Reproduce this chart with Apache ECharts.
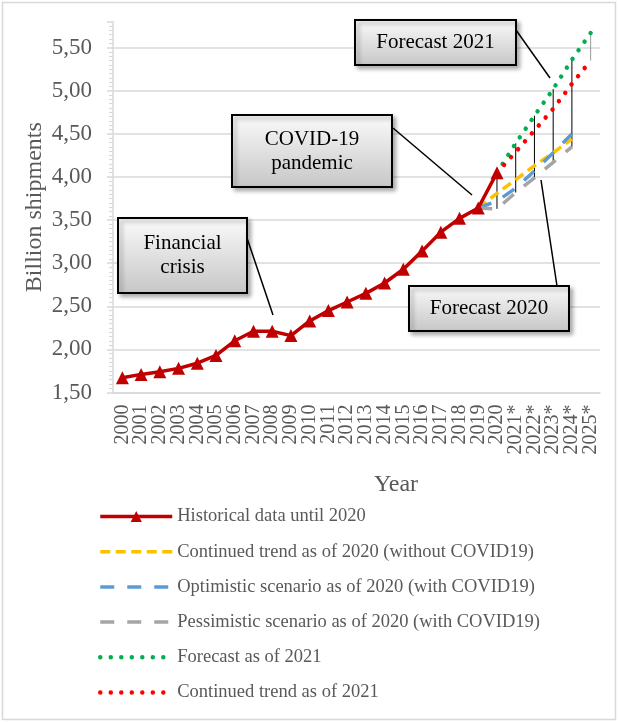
<!DOCTYPE html>
<html>
<head>
<meta charset="utf-8">
<script src="https://cdn.jsdelivr.net/npm/echarts@6/dist/echarts.min.js"></script>
<style>
html, body { margin: 0; padding: 0; background: #fff; }
#chart { width: 619px; height: 722px; }
</style>
</head>
<body>
<div id="chart"></div>
<script>
// categories on the x axis
const years = ['2000', '2001', '2002', '2003', '2004', '2005', '2006', '2007', '2008', '2009',
    '2010', '2011', '2012', '2013', '2014', '2015', '2016', '2017', '2018', '2019',
    '2020', '2021*', '2022*', '2023*', '2024*', '2025*'];

// billion shipments, 2000 - 2020
const historical = [1.67, 1.71, 1.74, 1.78, 1.84, 1.93, 2.10, 2.21, 2.21, 2.16,
    2.33, 2.45, 2.55, 2.65, 2.77, 2.93, 3.14, 3.36, 3.52, 3.64, 4.05];
// scenarios as of 2020, 2019 - 2024*
const trend2020 = [3.64, 3.81, 3.97, 4.13, 4.28, 4.44];
const optimistic2020 = [3.64, 3.72, 3.87, 4.07, 4.28, 4.50];
const pessimistic2020 = [3.64, 3.63, 3.82, 3.99, 4.17, 4.35];
// as of 2021, 2020 - 2025*
const forecast2021 = [4.05, 4.39, 4.71, 5.02, 5.36, 5.67];
const trend2021 = [4.05, 4.29, 4.54, 4.79, 5.08, 5.35];

// y axis ticks
const yMin = 1.5;
const yMax = 5.8;
const yStep = 0.5;

const serif = "'Liberation Serif', 'Times New Roman', serif";
const grey = '#595959';

function pad(start, arr) {
    const s = years.indexOf(start);
    return years.map(function (y, i) {
        const k = i - s;
        return (k >= 0 && k < arr.length) ? arr[k] : null;
    });
}

const sHist = pad('2000', historical);
const sTrend20 = pad('2019', trend2020);
const sOpt20 = pad('2019', optimistic2020);
const sPes20 = pad('2019', pessimistic2020);
const sFc21 = pad('2020', forecast2021);
const sTrend21 = pad('2020', trend2021);

// high-low lines from 2020 on
const hiLo = [];
for (let i = years.indexOf('2020'); i < years.length; i++) {
    const vals = [sHist[i], sTrend20[i], sOpt20[i], sPes20[i], sFc21[i], sTrend21[i]]
        .filter(function (v) { return v != null; });
    if (vals.length > 1) hiLo.push([i, Math.max.apply(null, vals), Math.min.apply(null, vals)]);
}

const gridColors = [];
for (let v = yMin; v <= yMax + 1e-9; v += yStep) gridColors.push('#d9d9d9');
gridColors.push('transparent');

function calloutBox(x, y, w, h) {
    return {
        type: 'rect',
        z: 100,
        shape: { x: x, y: y, width: w, height: h },
        style: {
            fill: {
                type: 'linear', x: 0, y: 0, x2: 0, y2: 1,
                colorStops: [{ offset: 0, color: '#fbfbfb' }, { offset: 1, color: '#c6c6c6' }]
            },
            stroke: '#000',
            lineWidth: 2,
            shadowBlur: 4,
            shadowOffsetX: 3,
            shadowOffsetY: 3,
            shadowColor: 'rgba(0,0,0,0.3)'
        }
    };
}

function calloutText(x, y, w, h, text) {
    return {
        type: 'text',
        z: 101,
        style: {
            x: x + w / 2,
            y: y + h / 2,
            text: text,
            align: 'center',
            verticalAlign: 'middle',
            fill: '#000',
            font: '21px ' + serif,
            lineHeight: 24,
            shadowBlur: 0,
            shadowOffsetX: 0,
            shadowOffsetY: 0,
            shadowColor: 'transparent',
            textShadowBlur: 0
        }
    };
}

function leader(x1, y1, x2, y2) {
    return {
        type: 'line',
        z: 99,
        shape: { x1: x1, y1: y1, x2: x2, y2: y2 },
        style: { stroke: '#000', lineWidth: 1.5 }
    };
}

const boxes = [
    [355, 20, 161, 45, 'Forecast 2021'],
    [232, 115, 160, 72, 'COVID-19\npandemic'],
    [118, 218, 129, 75, 'Financial\ncrisis'],
    [409, 286, 160, 45, 'Forecast 2020']
];

const graphics = [{
    type: 'rect',
    shape: { x: 2.5, y: 2.5, width: 613, height: 717 },
    style: { fill: 'none', stroke: '#d9d9d9', lineWidth: 1.5 },
    z: 0
},
leader(516, 30, 550, 78),
leader(393, 128, 472, 195),
leader(247, 238, 273, 315),
leader(557, 286, 541, 180)];
boxes.forEach(function (b) { graphics.push(calloutBox(b[0], b[1], b[2], b[3])); });
boxes.forEach(function (b) { graphics.push(calloutText(b[0], b[1], b[2], b[3], b[4])); });

const noSymbol = { color: 'rgba(0,0,0,0)', borderColor: 'rgba(0,0,0,0)', borderWidth: 0 };
const dashYellow = [10, 5.5];
const dashLong = [14, 13];
const dots = [0.01, 10.5];

const chart = echarts.init(document.querySelector('#chart'));
chart.setOption({
    animation: false,
    backgroundColor: '#fff',
    title: {
        text: 'Year',
        left: 391,
        top: 468,
        textAlign: 'center',
        textStyle: { fontFamily: serif, fontSize: 24, fontWeight: 'normal', color: grey }
    },
    grid: {
        left: 113,
        right: 19,
        top: 21.8,
        bottom: 329.5
    },
    legend: {
        orient: 'vertical',
        left: 93,
        top: 502,
        itemWidth: 72,
        itemHeight: 14,
        itemGap: 16.2,
        textStyle: { fontFamily: serif, fontSize: 18.5, color: grey },
        data: [
            { name: 'Historical data until 2020', lineStyle: { width: 3.5 } },
            { name: 'Continued trend as of 2020 (without COVID19)', itemStyle: noSymbol,
                lineStyle: { width: 3.5, type: dashYellow } },
            { name: 'Optimistic scenario as of 2020 (with COVID19)', itemStyle: noSymbol,
                lineStyle: { width: 3.5, type: dashLong } },
            { name: 'Pessimistic scenario as of 2020 (with COVID19)', itemStyle: noSymbol,
                lineStyle: { width: 3.5, type: dashLong } },
            { name: 'Forecast as of 2021', itemStyle: noSymbol,
                lineStyle: { width: 4.5, type: dots, cap: 'round' } },
            { name: 'Continued trend as of 2021', itemStyle: noSymbol,
                lineStyle: { width: 4.5, type: dots, cap: 'round' } }
        ]
    },
    xAxis: {
        type: 'category',
        data: years,
        boundaryGap: true,
        axisLine: { lineStyle: { color: '#d9d9d9', width: 1.5 } },
        axisTick: { alignWithLabel: true, length: 5, lineStyle: { color: '#d9d9d9', width: 1.5 } },
        axisLabel: {
            rotate: 90,
            margin: 12,
            interval: 0,
            fontFamily: serif,
            fontSize: 20,
            color: grey
        },
        splitLine: { show: false }
    },
    yAxis: {
        type: 'value',
        min: yMin,
        max: yMax,
        interval: yStep,
        name: 'Billion shipments',
        nameLocation: 'middle',
        nameMoveOverlap: false,
        nameGap: 66,
        nameTextStyle: { fontFamily: serif, fontSize: 24, color: grey },
        axisLine: { show: true, lineStyle: { color: '#d9d9d9', width: 1.5 } },
        axisTick: { show: true, length: 6, lineStyle: { color: '#d9d9d9', width: 1.5 } },
        minorTick: { show: true, splitNumber: 10, length: 4, lineStyle: { color: '#d9d9d9', width: 1.2 } },
        axisLabel: {
            margin: 21,
            fontFamily: serif,
            fontSize: 23,
            color: grey,
            showMaxLabel: false,
            formatter: function (v) {
                return v > yMax - 0.01 && v % yStep !== 0 ? '' : v.toFixed(2).replace('.', ',');
            }
        },
        splitLine: { show: true, lineStyle: { color: gridColors, width: 1.5 } }
    },
    series: [{
        name: 'Continued trend as of 2020 (without COVID19)',
        type: 'line',
        data: sTrend20,
        symbol: 'none',
        color: '#FFC000',
        lineStyle: { width: 3.5, type: dashYellow },
        z: 3
    }, {
        name: 'Optimistic scenario as of 2020 (with COVID19)',
        type: 'line',
        data: sOpt20,
        symbol: 'none',
        color: '#5B9BD5',
        lineStyle: { width: 3.5, type: dashLong },
        z: 3
    }, {
        name: 'Pessimistic scenario as of 2020 (with COVID19)',
        type: 'line',
        data: sPes20,
        symbol: 'none',
        color: '#A5A5A5',
        lineStyle: { width: 3.5, type: dashLong },
        z: 3
    }, {
        name: 'Forecast as of 2021',
        type: 'line',
        data: sFc21,
        symbol: 'none',
        color: '#00B050',
        lineStyle: { width: 4.5, type: dots, cap: 'round' },
        z: 3
    }, {
        name: 'Continued trend as of 2021',
        type: 'line',
        data: sTrend21,
        symbol: 'none',
        color: '#FF0000',
        lineStyle: { width: 4.5, type: dots, cap: 'round' },
        z: 3
    }, {
        name: 'Historical data until 2020',
        type: 'line',
        data: sHist,
        symbol: 'triangle',
        symbolSize: 13,
        color: '#C00000',
        lineStyle: { width: 3.5 },
        z: 4
    }, {
        name: 'hi-lo',
        type: 'custom',
        data: hiLo,
        encode: { x: 0, y: [1, 2] },
        z: 2,
        silent: true,
        renderItem: function (params, api) {
            const top = api.coord([api.value(0), api.value(1)]);
            const bot = api.coord([api.value(0), api.value(2)]);
            const last = api.value(0) === years.length - 1;
            return {
                type: 'line',
                shape: { x1: top[0], y1: top[1], x2: bot[0], y2: bot[1] },
                style: { stroke: last ? '#9a9a9a' : '#000', lineWidth: 1 }
            };
        }
    }],
    graphic: graphics
});
</script>
</body>
</html>
